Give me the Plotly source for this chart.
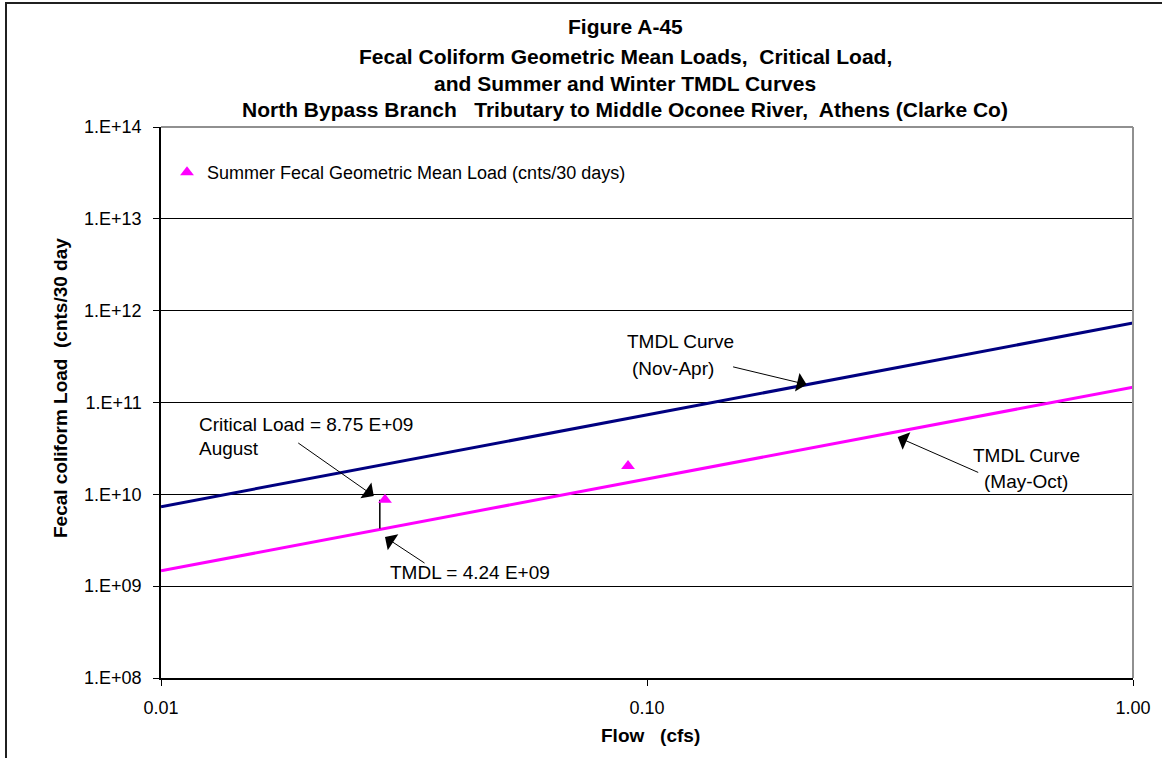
import math
import plotly.graph_objects as go

# ---- data ----
tmdl_flow = [0.01, 1.0]                      # cfs, ends of the TMDL curves
summer_tmdl_load = [1.47e9, 1.47e11]         # May-Oct TMDL curve (cnts/30 days)
winter_tmdl_load = [7.34e9, 7.34e11]         # Nov-Apr TMDL curve (cnts/30 days)

summer_flow = [0.0289, 0.0914]               # cfs
summer_gm_load = [8.75e9, 2.04e10]           # summer fecal geometric mean load

critical_flow = 0.0282
critical_load = 8.75e9
critical_tmdl = 4.24e9

x_tickvals = [0.01, 0.1, 1.0]
x_ticktext = ["0.01", "0.10", "1.00"]
y_tickvals = [1e8, 1e9, 1e10, 1e11, 1e12, 1e13, 1e14]
y_ticktext = ["1.E+08", "1.E+09", "1.E+10", "1.E+11", "1.E+12", "1.E+13", "1.E+14"]

title_lines = [
    "Figure A-45",
    "Fecal Coliform Geometric Mean Loads,  Critical Load,",
    "and Summer and Winter TMDL Curves",
    "North Bypass Branch   Tributary to Middle Oconee River,  Athens (Clarke Co)",
]

# ---- page geometry ----
W, H = 1162, 758
L, R, T, B = 161, 1133, 127, 678


def px_x(px):
    return (px - L) / (R - L)


def px_y(py):
    return (B - py) / (B - T)


FONT = "Liberation Sans, Arial, sans-serif"
NAVY = "#000080"
PINK = "#FF00FF"

fig = go.Figure()

fig.add_trace(go.Scatter(
    x=tmdl_flow, y=winter_tmdl_load, mode="lines",
    line=dict(color=NAVY, width=3), showlegend=False, hoverinfo="skip",
))
fig.add_trace(go.Scatter(
    x=tmdl_flow, y=summer_tmdl_load, mode="lines",
    line=dict(color=PINK, width=3), showlegend=False, hoverinfo="skip",
))
fig.add_trace(go.Scatter(
    x=[critical_flow, critical_flow], y=[critical_load, critical_tmdl], mode="lines",
    line=dict(color="black", width=1.5), showlegend=False, hoverinfo="skip",
))
fig.add_trace(go.Scatter(
    x=summer_flow, y=summer_gm_load, mode="markers",
    marker=dict(symbol="triangle-up", size=12, color=PINK),
    name="Summer Fecal Geometric Mean Load (cnts/30 days)",
))

annotations = []

# title
for text, yc in zip(title_lines, [27, 56, 83, 110]):
    annotations.append(dict(
        text="<b>%s</b>" % text, xref="paper", yref="paper",
        x=px_x(625), y=px_y(yc), xanchor="center", yanchor="middle",
        showarrow=False, font=dict(family=FONT, size=21, color="black"),
    ))

# axis titles
annotations.append(dict(
    text="<b>Fecal coliform Load  (cnts/30 day</b>", xref="paper", yref="paper",
    x=px_x(60), y=px_y(388), xanchor="center", yanchor="middle", textangle=-90,
    showarrow=False, font=dict(family=FONT, size=19, color="black"),
))
annotations.append(dict(
    text="<b>Flow   (cfs)</b>", xref="paper", yref="paper",
    x=px_x(650), y=px_y(735), xanchor="center", yanchor="middle",
    showarrow=False, font=dict(family=FONT, size=19, color="black"),
))

# callout texts
label_font = dict(family=FONT, size=19, color="black")
callouts = [
    ("Critical Load = 8.75 E+09", 197, 424, "left"),
    ("August", 197, 449, "left"),
    ("TMDL = 4.24 E+09", 388, 572, "left"),
    ("TMDL Curve", 680, 341, "center"),
    ("(Nov-Apr)", 673, 368, "center"),
    ("TMDL Curve", 1026, 455, "center"),
    ("(May-Oct)", 1026, 481, "center"),
]
for text, px, py, anchor in callouts:
    annotations.append(dict(
        text=text, xref="paper", yref="paper", x=px_x(px), y=px_y(py),
        xanchor=anchor, yanchor="middle", showarrow=False, font=label_font,
    ))

# arrows: tip (flow, load) and tail offset in pixels
arrows = [
    (0.0274, 9.6e9, -77, -54),
    (0.0289, 3.43e9, 41, 27),
    (0.213, 1.57e11, -75, -18),
    (0.328, 4.2e10, 82, 36),
]
for fx, fy, ax, ay in arrows:
    annotations.append(dict(
        text="", x=math.log10(fx), y=math.log10(fy), xref="x", yref="y",
        ax=ax, ay=ay, axref="pixel", ayref="pixel",
        showarrow=True, arrowhead=1, arrowsize=3.2, arrowwidth=1,
        arrowcolor="black", standoff=0,
    ))

shapes = [
    # outer chart frame
    dict(type="rect", xref="paper", yref="paper",
         x0=px_x(6), x1=px_x(1175), y0=px_y(3), y1=px_y(775),
         line=dict(color="#202020", width=2), layer="below"),
    # grey top and right edges of the plot area
    dict(type="line", xref="paper", yref="paper", x0=0, x1=1, y0=1, y1=1,
         line=dict(color="#909090", width=2)),
    dict(type="line", xref="paper", yref="paper", x0=1, x1=1, y0=0, y1=1,
         line=dict(color="#909090", width=2)),
]

fig.update_layout(
    width=W, height=H,
    margin=dict(l=L, r=W - R, t=T, b=H - B),
    paper_bgcolor="white", plot_bgcolor="white",
    font=dict(family=FONT, size=18, color="black"),
    showlegend=True,
    legend=dict(
        x=px_x(167), y=px_y(154), xanchor="left", yanchor="top",
        bgcolor="rgba(0,0,0,0)", borderwidth=0,
        font=dict(family=FONT, size=18, color="black"),
    ),
    annotations=annotations,
    shapes=shapes,
    xaxis=dict(
        type="log", range=[-2, 0],
        tickvals=x_tickvals, ticktext=x_ticktext,
        ticks="outside", ticklen=6, tickcolor="black",
        showline=True, linecolor="black", linewidth=1.5,
        showgrid=False, zeroline=False,
        ticklabelstandoff=7,
        tickfont=dict(family=FONT, size=18, color="black"),
    ),
    yaxis=dict(
        type="log", range=[8, 14],
        tickvals=y_tickvals, ticktext=y_ticktext,
        ticks="outside", ticklen=6, tickcolor="black",
        showline=True, linecolor="black", linewidth=1.5,
        showgrid=True, gridcolor="black", gridwidth=1,
        zeroline=False,
        ticklabelstandoff=8,
        tickfont=dict(family=FONT, size=18, color="black"),
    ),
)

fig.write_html("out.html")
